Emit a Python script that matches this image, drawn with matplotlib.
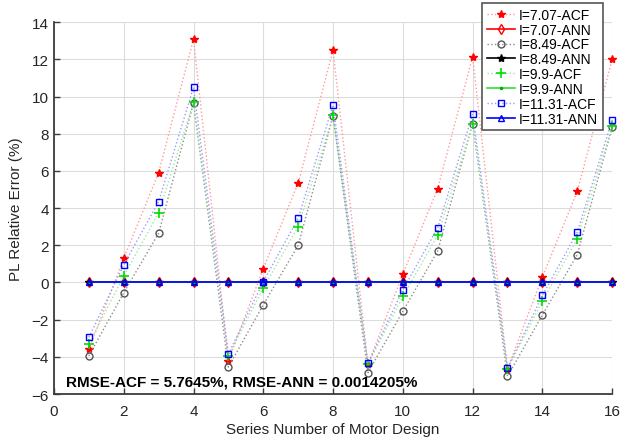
import numpy as np
import matplotlib.pyplot as plt

plt.rcParams['font.family'] = ['Liberation Sans', 'DejaVu Sans']

# motor design index
design = list(range(1, 17))

# ACF relative errors (%) for each current level
acf_707 = [-3.6, 1.3, 5.9, 13.1, -4.2, 0.75, 5.35, 12.5, -4.4, 0.45, 5.05, 12.15, -4.65, 0.3, 4.9, 12.0]
acf_849 = [-3.95, -0.55, 2.65, 9.65, -4.55, -1.2, 2.0, 8.95, -4.85, -1.55, 1.7, 8.55, -5.05, -1.75, 1.5, 8.35]
acf_990 = [-3.3, 0.35, 3.75, 9.7, -3.95, -0.3, 3.0, 9.0, -4.4, -0.75, 2.55, 8.55, -4.65, -1.0, 2.35, 8.4]
acf_1131 = [-2.95, 0.95, 4.35, 10.5, -3.85, 0.05, 3.45, 9.55, -4.35, -0.4, 2.95, 9.05, -4.6, -0.7, 2.7, 8.75]

# ANN relative errors (%) - essentially zero
ann_707 = [0.0] * 16
ann_849 = [0.0] * 16
ann_990 = [0.0] * 16
ann_1131 = [0.0] * 16

rmse_text = 'RMSE-ACF = 5.7645%, RMSE-ANN = 0.0014205%'

fig = plt.figure(figsize=(6.35, 4.39), dpi=100)
ax = fig.add_axes([0.085, 0.1002, 0.879, 0.8468])

# ACF series: dotted pale lines, full colour markers
ax.plot(design, acf_707, ':', color='#ff9a9a', lw=1, marker='*', ms=6,
        mec='red', mfc='red', label='I=7.07-ACF', clip_on=False)
ax.plot(design, ann_707, '-', color='red', lw=1.2, marker='d', ms=5,
        mec='red', mfc='none', label='I=7.07-ANN', clip_on=False)
ax.plot(design, acf_849, ':', color='#8c8c8c', lw=1, marker='o', ms=5,
        mec='#555555', mfc='none', label='I=8.49-ACF', clip_on=False)
ax.plot(design, ann_849, '-', color='black', lw=1.2, marker='*', ms=6,
        mec='black', mfc='black', label='I=8.49-ANN', clip_on=False)
ax.plot(design, acf_990, ':', color='#9ce89c', lw=1, marker='+', ms=7, mew=1.2,
        mec='#00dd00', label='I=9.9-ACF', clip_on=False)
ax.plot(design, ann_990, '-', color='#33dd33', lw=1.2, marker='.', ms=3,
        mec='#00aa00', label='I=9.9-ANN', clip_on=False)
ax.plot(design, acf_1131, ':', color='#9a9aff', lw=1, marker='s', ms=5,
        mec='blue', mfc='none', label='I=11.31-ACF', clip_on=False)
ax.plot(design, ann_1131, '-', color='blue', lw=1.2, marker='^', ms=5,
        mec='blue', mfc='none', label='I=11.31-ANN', clip_on=False)

ax.set_xlim(0, 16)
ax.set_ylim(-6, 14)
ax.set_xticks(np.arange(0, 17, 2))
ax.set_yticks(np.arange(-6, 15, 2))
ax.grid(True, color='#dcdcdc', lw=0.8)
ax.set_axisbelow(True)

for side in ['top', 'right']:
    ax.spines[side].set_visible(False)
for side in ['left', 'bottom']:
    ax.spines[side].set_color('#3c3c3c')
    ax.spines[side].set_linewidth(1.3)
ax.tick_params(direction='in', length=4, width=1, colors='#3c3c3c',
               labelsize=11, labelcolor='#262626')
ax.tick_params(axis='x', pad=7)

ax.set_xlabel('Series Number of Motor Design', fontsize=11, color='#262626', labelpad=3)
ax.set_ylabel('PL Relative Error (%)', fontsize=11, color='#262626', labelpad=6)

ax.text(0.022, 0.035, rmse_text, transform=ax.transAxes, fontsize=11,
        fontweight='bold', va='center', ha='left')

leg = ax.legend(loc='upper right', bbox_to_anchor=(0.984, 1.052), borderaxespad=0,
                fontsize=10, handlelength=2.0, labelspacing=0.06, fancybox=False,
                framealpha=1, edgecolor='#555555', borderpad=0.35, handletextpad=0.3)
leg.get_frame().set_linewidth(1.2)

fig.savefig('out.png', dpi=100)
